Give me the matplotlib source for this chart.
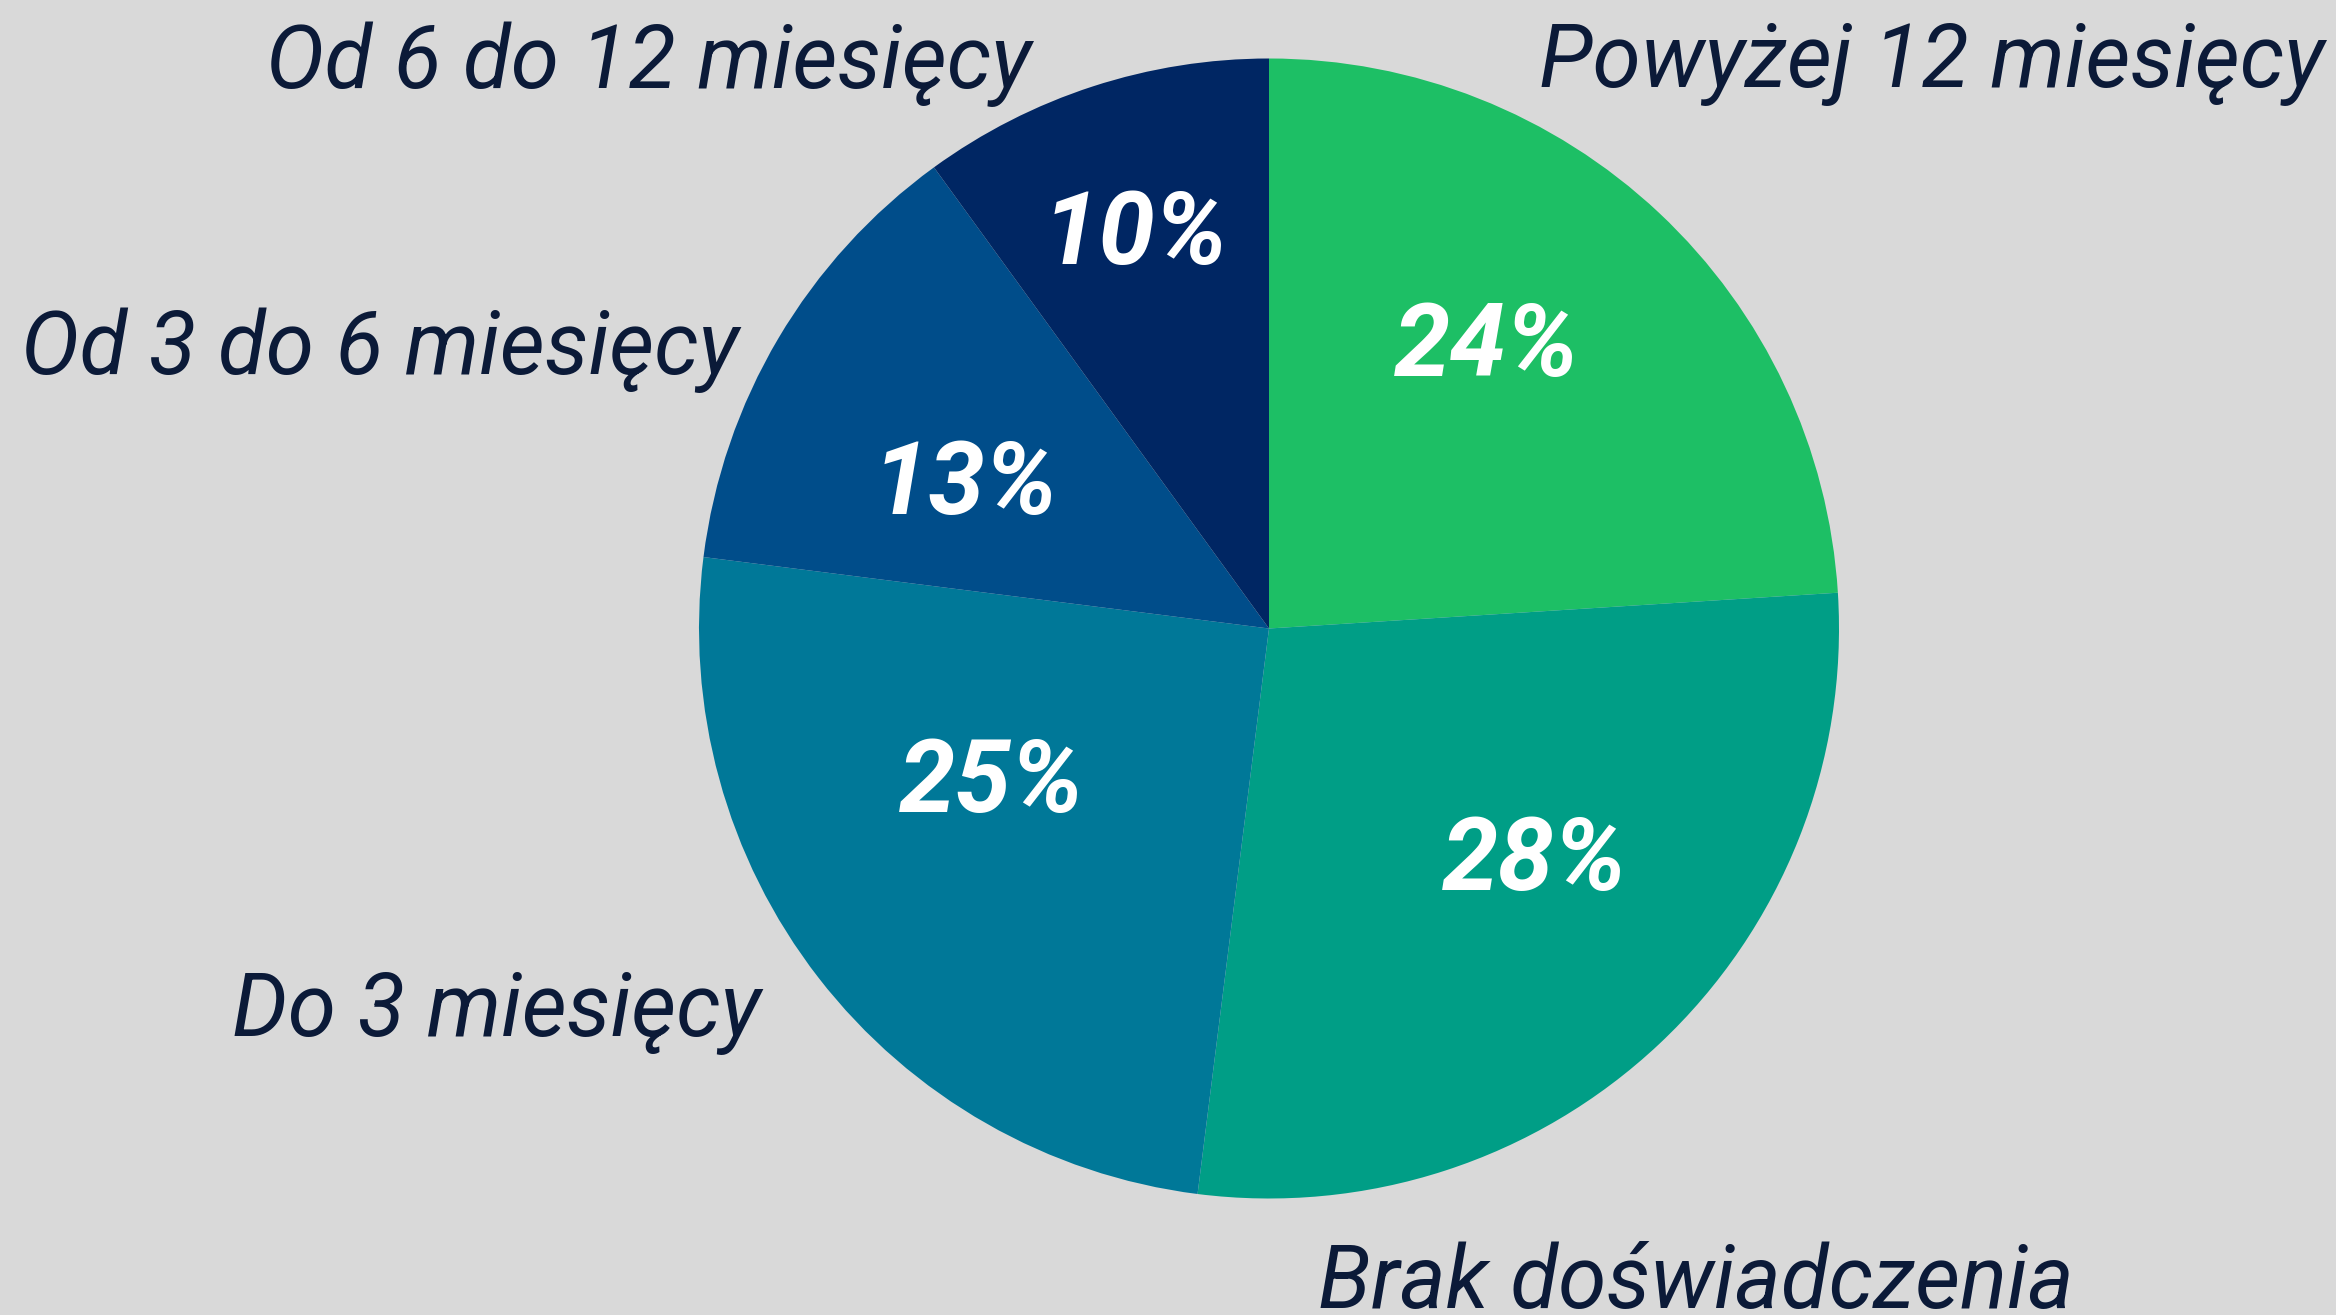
import matplotlib
matplotlib.use("Agg")
import matplotlib.pyplot as plt

categories = ["Powyżej 12 miesięcy", "Brak doświadczenia", "Do 3 miesięcy",
              "Od 3 do 6 miesięcy", "Od 6 do 12 miesięcy"]
values = [24, 28, 25, 13, 10]
colors = ["#1dbf65", "#009e86", "#007898", "#004d8a", "#002663"]

W, H = 2336, 1315
fig = plt.figure(figsize=(W / 100, H / 100), dpi=100, facecolor="#d9d9d9")
ax = fig.add_axes([0, 0, 1, 1])
ax.set_facecolor("#d9d9d9")

cx, cy, r = 1269, H - 628.5, 570
ax.pie(values, colors=colors, startangle=90, counterclock=False,
       center=(cx, cy), radius=r, frame=True,
       wedgeprops=dict(linewidth=0))
ax.set_xlim(0, W)
ax.set_ylim(0, H)
ax.set_aspect("equal")
ax.axis("off")

text_color = "#0b1a38"
# category labels: (x, y in pixels from top, ha)
label_pos = [(1539, 64, "left"), (1318, 1284, "left"), (761, 1013, "right"),
             (739, 350, "right"), (1031, 64, "right")]
for cat, (x, y, ha) in zip(categories, label_pos):
    ax.text(x, H - y, cat, ha=ha, va="center", fontsize=63, family="Roboto",
            style="italic", color=text_color)

pct_pos = [(1487, 348), (1535, 862), (992, 784), (965, 486), (1135, 236)]
for v, (x, y) in zip(values, pct_pos):
    ax.text(x, H - y, f"{v}%", ha="center", va="center", fontsize=73,
            family="Roboto", style="italic", fontweight="bold", color="white")

fig.savefig("out.png", dpi=100, facecolor=fig.get_facecolor())
